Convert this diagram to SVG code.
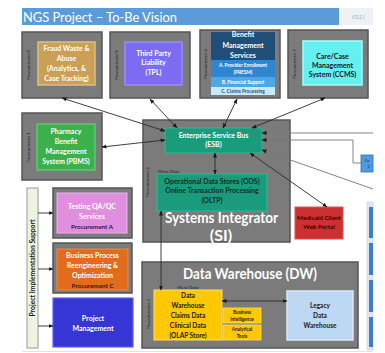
<svg xmlns="http://www.w3.org/2000/svg" width="385" height="353" viewBox="0 0 385 353">
<style>
text{font-family:Lato,"Open Sans","Liberation Sans",sans-serif;font-weight:bold;text-anchor:middle}
.outer{fill:#7b7b7b;stroke:#555;stroke-width:1.5}
.w{fill:#fff;font-size:7px}
.d{fill:#1a1a1a;font-size:7px}
.proc{fill:#222;font-size:4.6px;font-weight:normal}
.c{fill:none;stroke:#2a2a2a;stroke-width:0.9}
.g{fill:none;stroke:#777;stroke-width:0.9}
</style>
<defs>
<marker id="ah" viewBox="0 0 10 10" refX="9" refY="5" markerWidth="5" markerHeight="5" orient="auto-start-reverse" markerUnits="userSpaceOnUse">
<path d="M0,1 L10,5 L0,9 z" fill="#1a1a1a"/>
</marker>
</defs>
<rect width="385" height="353" fill="#fff"/>

<g id="title">
<rect x="22" y="8" width="317" height="17" fill="#5b9bd8"/>
<rect x="339" y="8" width="34" height="17" fill="#eef2f6"/>
<text x="23" y="21.5" textLength="154" lengthAdjust="spacingAndGlyphs" style="font-size:14px;font-weight:normal;text-anchor:start;fill:#fff">NGS Project – To-Be Vision</text>
<text x="358" y="19" style="font-size:5px;font-weight:normal;fill:#9aa">V3.2 (</text>
</g>

<g id="fwa">
<rect class="outer" x="22" y="32" width="80" height="66"/>
<text class="proc" transform="translate(30,65) rotate(-90)">Procurement 8</text>
<rect x="38" y="42" width="57" height="43" fill="#c9a055" stroke="#dcc085" stroke-width="1.5"/>
<text class="w" x="66.5" y="51">Fraud Waste &amp;</text>
<text class="w" x="66.5" y="61">Abuse</text>
<text class="w" x="66.5" y="71">(Analytics, &amp;</text>
<text class="w" x="66.5" y="81">Case Tracking)</text>
</g>

<g id="tpl">
<rect class="outer" x="110" y="32" width="80" height="66"/>
<text class="proc" transform="translate(118,65) rotate(-90)">Procurement 9</text>
<rect x="125" y="42" width="57" height="43" fill="#7d6cf2" stroke="#9b8cff" stroke-width="1.5"/>
<text class="w" x="153.5" y="56">Third Party</text>
<text class="w" x="153.5" y="65">Liability</text>
<text class="w" x="153.5" y="75">(TPL)</text>
</g>

<g id="bms">
<rect class="outer" x="200" y="30" width="80" height="68"/>
<text class="proc" transform="translate(207,64) rotate(-90)">Procurement 6</text>
<rect x="211" y="32" width="64" height="28" fill="#1f4e79"/>
<rect x="211" y="60" width="64" height="17" fill="#2e86d0"/>
<rect x="211" y="77" width="64" height="10" fill="#4fa8e6"/>
<rect x="211" y="87" width="64" height="8" fill="#c8eaf8"/>
<text class="w" x="243" y="37">Benefit</text>
<text class="w" x="243" y="48">Management</text>
<text class="w" x="243" y="58">Services</text>
<text class="w" x="243" y="67" style="font-size:4.8px">A. Provider Enrollment</text>
<text class="w" x="243" y="74" style="font-size:4.8px">(PRESM)</text>
<text class="w" x="243" y="83.5" style="font-size:4.8px">B. Financial Support</text>
<text class="d" x="243" y="92.5" style="font-size:4.8px;fill:#1f4e79">C. Claims Processing</text>
</g>

<g id="ccms">
<rect class="outer" x="288" y="30" width="80" height="68"/>
<text class="proc" transform="translate(296,64) rotate(-90)">Procurement 7</text>
<rect x="303" y="41" width="59" height="44" fill="#66efef" stroke="#a0ffff" stroke-width="1.5"/>
<text class="d" x="332.5" y="59">Care/Case</text>
<text class="d" x="332.5" y="68">Management</text>
<text class="d" x="332.5" y="77">System (CCMS)</text>
</g>

<g id="pbms">
<rect class="outer" x="22" y="113" width="80" height="67"/>
<text class="proc" transform="translate(30,147) rotate(-90)">Procurement 1</text>
<rect x="37" y="124" width="58" height="46" fill="#3cb04c" stroke="#60c870" stroke-width="1.5"/>
<text class="w" x="66" y="134">Pharmacy</text>
<text class="w" x="66" y="144">Benefit</text>
<text class="w" x="66" y="154">Management</text>
<text class="w" x="66" y="164">System (PBMS)</text>
</g>

<g id="si">
<rect class="outer" x="143" y="120" width="147" height="122"/>
<text class="proc" transform="translate(149,182) rotate(-90)">Procurement 2</text>
<text x="158" y="173" style="font-size:4.6px;font-weight:normal;fill:#222;text-anchor:start">Meta Data</text>
<text x="221.5" y="223" textLength="113" lengthAdjust="spacingAndGlyphs" style="font-size:16px;fill:#fff">Systems Integrator</text>
<text x="221" y="240.5" style="font-size:16px;fill:#fff">(SI)</text>
</g>

<g id="esb">
<rect x="165" y="128" width="97" height="25" fill="#1a9c7c" stroke="#30b894" stroke-width="1"/>
<text class="w" x="213.5" y="138">Enterprise Service Bus</text>
<text class="w" x="213.5" y="147">(ESB)</text>
</g>

<g id="ods">
<rect x="157" y="174" width="110" height="37" fill="#1a9c7c" stroke="#30b894" stroke-width="1"/>
<text class="d" x="212" y="184" style="fill:#0b2e22">Operational Data Stores (ODS)</text>
<text class="d" x="212" y="193" style="fill:#0b2e22">Online Transaction Processing</text>
<text class="d" x="212" y="203" style="fill:#0b2e22">(OLTP)</text>
</g>

<g id="portal">
<rect x="295" y="207" width="48" height="32" fill="#cc3030" stroke="#e05555" stroke-width="1"/>
<text class="d" x="319" y="220" style="font-size:6.3px;fill:#3a0000">Medicaid Client</text>
<text class="d" x="319" y="229" style="font-size:6.3px;fill:#3a0000">Web Portal</text>
</g>

<g id="pis">
<rect x="27" y="188" width="11" height="160" fill="#eef4e2" stroke="#999" stroke-width="1"/>
<text transform="translate(35,268) rotate(-90)" style="font-size:6.8px;fill:#222">Project Implementation Support</text>
</g>

<g id="testing">
<rect class="outer" x="53" y="188" width="79" height="50"/>
<rect x="57" y="193" width="70" height="40" fill="#e08fde" stroke="#eeb0ee" stroke-width="1"/>
<text class="w" x="92" y="209">Testing QA/QC</text>
<text class="w" x="92" y="219">Services</text>
<text class="d" x="92" y="229" style="font-size:6.3px;fill:#3a1040">Procurement A</text>
</g>

<g id="bpr">
<rect class="outer" x="53" y="243" width="79" height="50"/>
<rect x="57" y="249" width="71" height="41" fill="#e26b1c" stroke="#f08a40" stroke-width="1"/>
<text class="w" x="92.5" y="258">Business Process</text>
<text class="w" x="92.5" y="268">Reengineering &amp;</text>
<text class="w" x="92.5" y="278">Optimization</text>
<text class="d" x="92.5" y="288" style="font-size:6.3px;fill:#3a1800">Procurement C</text>
</g>

<g id="pm">
<rect x="53" y="298" width="80" height="49" fill="#3636d4" stroke="#6060f0" stroke-width="1.2"/>
<text class="w" x="93" y="321">Project</text>
<text class="w" x="93" y="331">Management</text>
</g>

<g id="dw">
<rect class="outer" x="142" y="262" width="216" height="86"/>
<text x="250" y="279" textLength="134" lengthAdjust="spacingAndGlyphs" style="font-size:15px;fill:#fff">Data Warehouse (DW)</text>
<text class="proc" transform="translate(150,314) rotate(-90)">Procurement 3</text>
<text x="188" y="289" style="font-size:4.6px;font-weight:normal;fill:#222">Meta Data</text>
</g>

<g id="dwstore">
<rect x="154" y="290" width="68" height="50" fill="#ffc800" stroke="#ffe070" stroke-width="1"/>
<text class="d" x="188" y="298" style="font-size:6.5px">Data</text>
<text class="d" x="188" y="308" style="font-size:6.5px">Warehouse</text>
<text class="d" x="188" y="318" style="font-size:6.5px">Claims Data</text>
<text class="d" x="188" y="328" style="font-size:6.5px">Clinical Data</text>
<text class="d" x="188" y="338" style="font-size:6.5px">(OLAP Store)</text>
</g>

<g id="bi">
<rect x="223" y="308" width="38" height="15" fill="#ffc800" stroke="#ffe070" stroke-width="0.8"/>
<text class="d" x="242" y="314" style="font-size:4.6px">Business</text>
<text class="d" x="242" y="321" style="font-size:4.6px">Intelligence</text>
</g>

<g id="tools">
<rect x="223" y="325" width="38" height="15" fill="#ffc800" stroke="#ffe070" stroke-width="0.8"/>
<text class="d" x="242" y="331" style="font-size:4.6px">Analytical</text>
<text class="d" x="242" y="338" style="font-size:4.6px">Tools</text>
</g>

<g id="legacy">
<rect x="287" y="291" width="66" height="49" fill="#bcd8f2" stroke="#dce8f8" stroke-width="1.5"/>
<text class="d" x="320" y="308" style="font-size:6.5px">Legacy</text>
<text class="d" x="320" y="318" style="font-size:6.5px">Data</text>
<text class="d" x="320" y="328" style="font-size:6.5px">Warehouse</text>
</g>

<g id="rightside">
<rect x="361" y="155" width="12" height="17" fill="#4f9be0" stroke="#2f6fb0" stroke-width="0.8"/>
<text x="367" y="162" style="font-size:3.5px;font-weight:normal;fill:#123">Co</text>
<text x="369" y="168" style="font-size:3.5px;font-weight:normal;fill:#123">C</text>
<rect x="367" y="202" width="6" height="148" fill="#dde6ee" stroke="#c0cad4" stroke-width="0.5"/>
<rect x="369" y="207" width="4" height="31" fill="#3b7fc4"/>
<rect x="369" y="243" width="4" height="32" fill="#3b7fc4"/>
<rect x="369" y="280" width="4" height="32" fill="#3b7fc4"/>
<rect x="369" y="317" width="4" height="30" fill="#3b7fc4"/>
</g>

<g id="connectors">
<line class="c" x1="62" y1="98" x2="165" y2="131" marker-start="url(#ah)" marker-end="url(#ah)"/>
<line class="c" x1="150" y1="99" x2="177" y2="128" marker-start="url(#ah)" marker-end="url(#ah)"/>
<line class="c" x1="237" y1="99" x2="223" y2="128" marker-start="url(#ah)" marker-end="url(#ah)"/>
<line class="c" x1="325" y1="98" x2="252" y2="128" marker-start="url(#ah)" marker-end="url(#ah)"/>
<line class="c" x1="102" y1="147" x2="165" y2="140" marker-start="url(#ah)" marker-end="url(#ah)"/>
<line class="c" x1="215" y1="153" x2="215" y2="174" marker-start="url(#ah)" marker-end="url(#ah)"/>
<line class="c" x1="250" y1="153" x2="327" y2="207" marker-start="url(#ah)" marker-end="url(#ah)"/>
<line class="c" x1="161" y1="211" x2="161" y2="290" marker-start="url(#ah)" marker-end="url(#ah)"/>
<line class="c" x1="222" y1="301" x2="287" y2="301" marker-start="url(#ah)" marker-end="url(#ah)"/>
<path class="g" d="M373,133 H262" marker-end="url(#ah)"/>
<path class="g" d="M361,163 H353 V140 H262" marker-end="url(#ah)"/>
<path class="g" d="M373,189 L262,150" marker-end="url(#ah)"/>
<line class="c" x1="38" y1="213" x2="53" y2="213" marker-end="url(#ah)"/>
<line class="c" x1="38" y1="269" x2="53" y2="269" marker-end="url(#ah)"/>
<line class="c" x1="38" y1="326" x2="53" y2="326" marker-end="url(#ah)"/>
<line x1="22" y1="351.5" x2="373" y2="351.5" stroke="#e4e4e4" stroke-width="1"/>
</g>
</svg>
